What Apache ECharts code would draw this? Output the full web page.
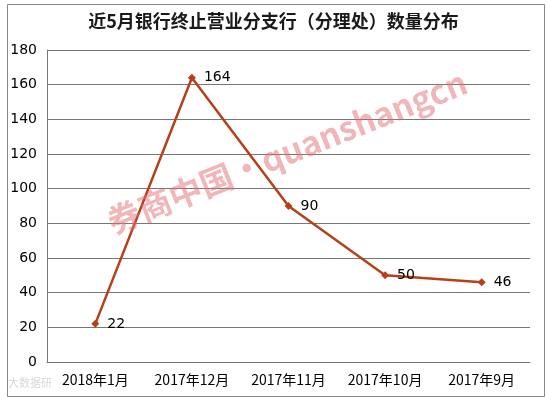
<!DOCTYPE html>
<html><head><meta charset="utf-8">
<script src="https://cdn.jsdelivr.net/npm/echarts@6/dist/echarts.min.js"></script>
<style>html,body{margin:0;padding:0;background:#fff}#c{width:547px;height:397px}</style>
</head><body><div id="c"></div>
<script>
const titleText = '近5月银行终止营业分支行（分理处）数量分布';
const categories = ['2018年1月', '2017年12月', '2017年11月', '2017年10月', '2017年9月'];
const values = [22, 164, 90, 50, 46];
const yTicks = [0, 20, 40, 60, 80, 100, 120, 140, 160, 180];

const chart = echarts.init(document.getElementById('c'), null, {renderer: 'canvas'});
const font = '"Noto Sans CJK SC", "DejaVu Sans", sans-serif';
chart.setOption({
  animation: false,
  backgroundColor: '#fff',
  title: {
    text: titleText, left: 'center', top: 7,
    textStyle: {fontFamily: font, fontSize: 18, fontWeight: 'bold', color: '#1a1a1a'}
  },
  grid: {left: 47, right: 17, top: 50, bottom: 35, containLabel: false},
  xAxis: {
    type: 'category', data: categories, boundaryGap: true,
    axisLine: {lineStyle: {color: '#777', width: 1}},
    axisTick: {show: false},
    axisLabel: {interval: 0, fontFamily: font, fontSize: 14, color: '#000', margin: 11}
  },
  yAxis: {
    type: 'value', min: yTicks[0], max: yTicks[yTicks.length - 1], interval: 20,
    axisLine: {show: true, lineStyle: {color: '#777', width: 1}},
    axisTick: {show: false},
    splitLine: {lineStyle: {color: '#777', width: 1}},
    axisLabel: {fontFamily: '"DejaVu Sans", sans-serif', fontSize: 14, color: '#000', margin: 10}
  },
  series: [{
    type: 'line', data: values,
    symbol: 'diamond', symbolSize: 8,
    lineStyle: {color: '#B5401A', width: 2.5},
    itemStyle: {color: '#B5401A'},
    label: {show: true, position: 'right', distance: 8, fontFamily: '"DejaVu Sans", sans-serif', fontSize: 14, color: '#000'},
    z: 3
  }],
  graphic: [
    {type: 'rect', left: 5, top: 2, shape: {width: 537, height: 392}, style: {fill: 'none', stroke: '#888', lineWidth: 1}, z: 0, silent: true},
    {type: 'text', x: 287, y: 152, rotation: 0.38, z: 10, silent: true,
      style: {text: '券商中国•quanshangcn', font: 'bold 33px "Noto Sans CJK SC", sans-serif', fill: 'rgba(228,110,115,0.5)', align: 'center', verticalAlign: 'middle'}},
    {type: 'text', left: 8, top: 377, z: 10, silent: true,
      style: {text: '大数据研', font: '11px "Noto Sans CJK SC", sans-serif', fill: 'rgba(190,190,190,0.6)'}}
  ]
});
</script></body></html>
